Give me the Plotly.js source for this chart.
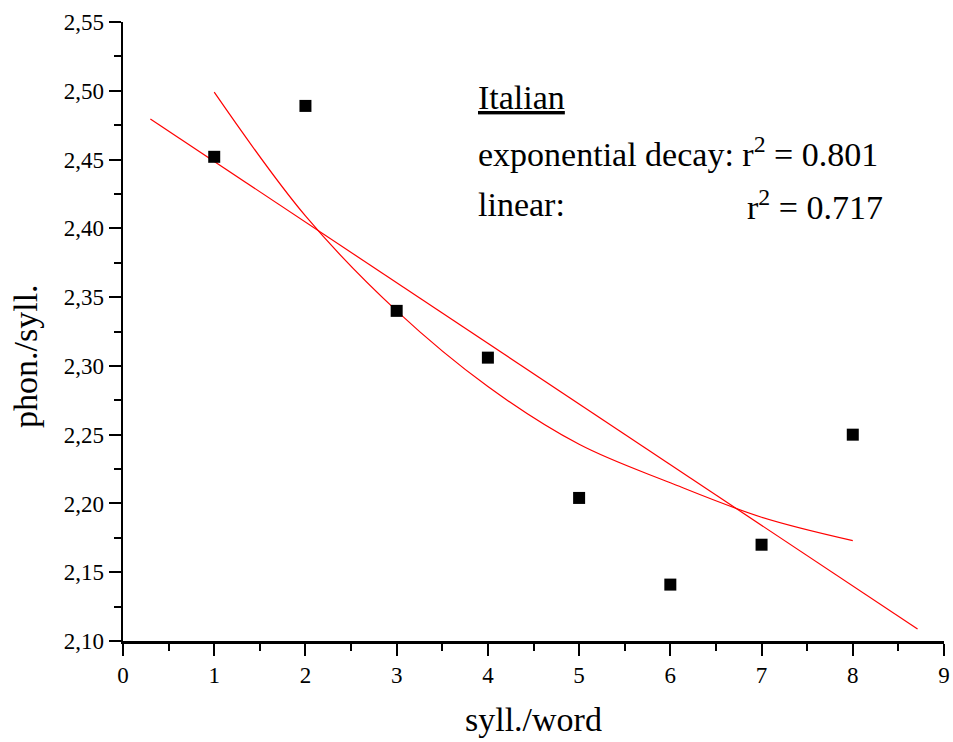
<!DOCTYPE html>
<html>
<head>
<meta charset="utf-8">
<script src="https://cdn.plot.ly/plotly-3.0.1.min.js"></script>
<style>html,body{margin:0;padding:0;background:#fff;}#chart{width:953px;height:742px;}</style>
</head>
<body>
<div id="chart"></div>
<script>
// Observed data (syll./word vs phon./syll.)
const xVals = [1, 2, 3, 4, 5, 6, 7, 8];
const yVals = [2.452, 2.489, 2.340, 2.306, 2.204, 2.141, 2.170, 2.250];
// Linear fit line endpoints
const linX = [0.3, 8.71];
const linY = [2.4795, 2.1087];
// Exponential decay fit curve
const expX = [1, 2, 3, 4, 5, 6, 7, 8];
const expY = [2.499, 2.409, 2.340, 2.285, 2.243, 2.215, 2.190, 2.173];

const FONT = 'Liberation Serif';

const traces = [
  {x: expX, y: expY, mode: 'lines', line: {color: '#ff0000', width: 1.2, shape: 'spline'}, hoverinfo: 'skip'},
  {x: linX, y: linY, mode: 'lines', line: {color: '#ff0000', width: 1.2}, hoverinfo: 'skip'},
  {x: xVals, y: yVals, mode: 'markers', marker: {symbol: 'square', size: 12, color: '#000000'}, cliponaxis: false}
];

const axisCommon = {
  ticks: 'outside', ticklen: 12, tickwidth: 2, tickcolor: '#000',
  showline: true, linewidth: 2.5, linecolor: '#000',
  showgrid: false, zeroline: false,
  tickfont: {family: FONT, size: 23, color: '#000'}
};

const layout = {
  width: 953, height: 742,
  margin: {l: 123, r: 9, t: 22, b: 101},
  paper_bgcolor: '#fff', plot_bgcolor: '#fff',
  showlegend: false,
  separators: ',.',
  font: {family: FONT, color: '#000'},
  xaxis: Object.assign({}, axisCommon, {
    range: [0, 9], tick0: 0, dtick: 1,
    minor: {dtick: 0.5, ticklen: 7, tickwidth: 2, tickcolor: '#000', ticks: 'outside'}
  }),
  yaxis: Object.assign({}, axisCommon, {
    range: [2.10, 2.55], tick0: 2.10, dtick: 0.05, tickformat: '.2f',
    minor: {dtick: 0.025, ticklen: 7, tickwidth: 2, tickcolor: '#000', ticks: 'outside'}
  }),
  annotations: [
    {xref: 'paper', yref: 'paper', x: 0.5, y: -0.1276, xanchor: 'center', yanchor: 'middle',
     text: 'syll./word', showarrow: false, font: {family: FONT, size: 34, color: '#000'}},
    {xref: 'paper', yref: 'paper', x: -0.1185, y: 0.46, xanchor: 'center', yanchor: 'middle',
     text: 'phon./syll.', textangle: -90, showarrow: false, font: {family: FONT, size: 34, color: '#000'}},
    {xref: 'x', yref: 'y', x: 3.87, y: 2.495, xanchor: 'left', yanchor: 'middle',
     text: '<u>Italian</u>', showarrow: false, font: {family: FONT, size: 34, color: '#000'}},
    {xref: 'x', yref: 'y', x: 3.87, y: 2.4557, xanchor: 'left', yanchor: 'middle',
     text: 'exponential decay: r<sup>2</sup> = 0.801', showarrow: false, font: {family: FONT, size: 34, color: '#000'}},
    {xref: 'x', yref: 'y', x: 3.87, y: 2.4172, xanchor: 'left', yanchor: 'middle',
     text: 'linear:', showarrow: false, font: {family: FONT, size: 34, color: '#000'}},
    {xref: 'x', yref: 'y', x: 6.82, y: 2.4172, xanchor: 'left', yanchor: 'middle',
     text: 'r<sup>2</sup> = 0.717', showarrow: false, font: {family: FONT, size: 34, color: '#000'}}
  ]
};

Plotly.newPlot('chart', traces, layout, {staticPlot: true, displayModeBar: false});
</script>
</body>
</html>
